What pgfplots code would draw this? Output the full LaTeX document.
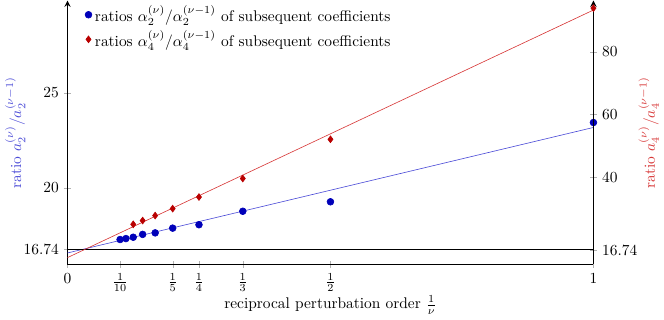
\documentclass[border=0pt]{standalone}
\usepackage{pgfplots}
\pgfplotsset{compat=1.18}
\definecolor{fitblue}{RGB}{75,75,215}
\definecolor{fitred}{RGB}{215,55,55}
\definecolor{ptblue}{RGB}{0,0,185}
\definecolor{ptred}{RGB}{185,0,0}
\begin{document}
\begin{tikzpicture}
% left axis: ratios for a_2
\begin{axis}[
    scale only axis,
    width=341pt, height=171pt,
    xmin=0, xmax=1,
    ymin=15.96, ymax=29.87,
    axis x line=bottom,
    axis y line=left,
    x axis line style={-, thick},
    y axis line style={thick},
    xtick={0,0.1,0.2,0.25,0.3333,0.5,1},
    xticklabels={$0$,$\frac{1}{10}$,$\frac{1}{5}$,$\frac{1}{4}$,$\frac{1}{3}$,$\frac{1}{2}$,$1$},
    ytick={16.74,20,25},
    yticklabels={$16.74$,$20$,$25$},
    tick style={gray!60},
    xlabel={reciprocal perturbation order $\frac{1}{\nu}$},
    xlabel shift=-4pt,
    ylabel={ratio $a_2^{(\nu)}/a_2^{(\nu-1)}$},
    ylabel style={fitblue},
    ylabel shift=-8pt,
    legend style={draw=none, fill=none, at={(0.03,1)}, anchor=north west,
        inner sep=1pt},
    legend cell align=left,
    clip=false,
]
    \addplot[only marks, mark=*, mark size=2.2pt, color=ptblue]
        coordinates {
            (0.1,17.27) (0.1111,17.32) (0.125,17.39) (0.1429,17.54)
            (0.1667,17.62) (0.2,17.87) (0.25,18.05) (0.3333,18.76)
            (0.5,19.26) (1,23.44)
        };
    \addlegendentry{ratios $\alpha_2^{(\nu)}/\alpha_2^{(\nu-1)}$ of subsequent coefficients}
    \addlegendimage{only marks, mark=diamond*, mark size=2.2pt, color=ptred}
    \addlegendentry{ratios $\alpha_4^{(\nu)}/\alpha_4^{(\nu-1)}$ of subsequent coefficients}
    % linear fit
    \addplot[fitblue, forget plot] coordinates {(0,16.56) (1,23.18)};
    % limit value
    \addplot[black, thick, forget plot] coordinates {(0,16.74) (1,16.74)};
\end{axis}
% right axis: ratios for a_4
\begin{axis}[
    scale only axis,
    width=341pt, height=171pt,
    xmin=0, xmax=1,
    ymin=12.25, ymax=96.3,
    axis x line=none,
    axis y line=right,
    y axis line style={thick},
    ytick={16.74,40,60,80},
    yticklabels={$16.74$,$40$,$60$,$80$},
    tick style={gray!60},
    ylabel={ratio $a_4^{(\nu)}/a_4^{(\nu-1)}$},
    ylabel style={fitred},
    ylabel shift=-6pt,
    clip=false,
]
    \addplot[only marks, mark=diamond*, mark size=2.2pt, color=ptred]
        coordinates {
            (0.125,25.0) (0.1429,26.2) (0.1667,27.8) (0.2,30.0)
            (0.25,33.7) (0.3333,39.6) (0.5,52.1) (1,93.9)
        };
    \addplot[fitred] coordinates {(0,14.4) (1,93.3)};
\end{axis}
\end{tikzpicture}
\end{document}
